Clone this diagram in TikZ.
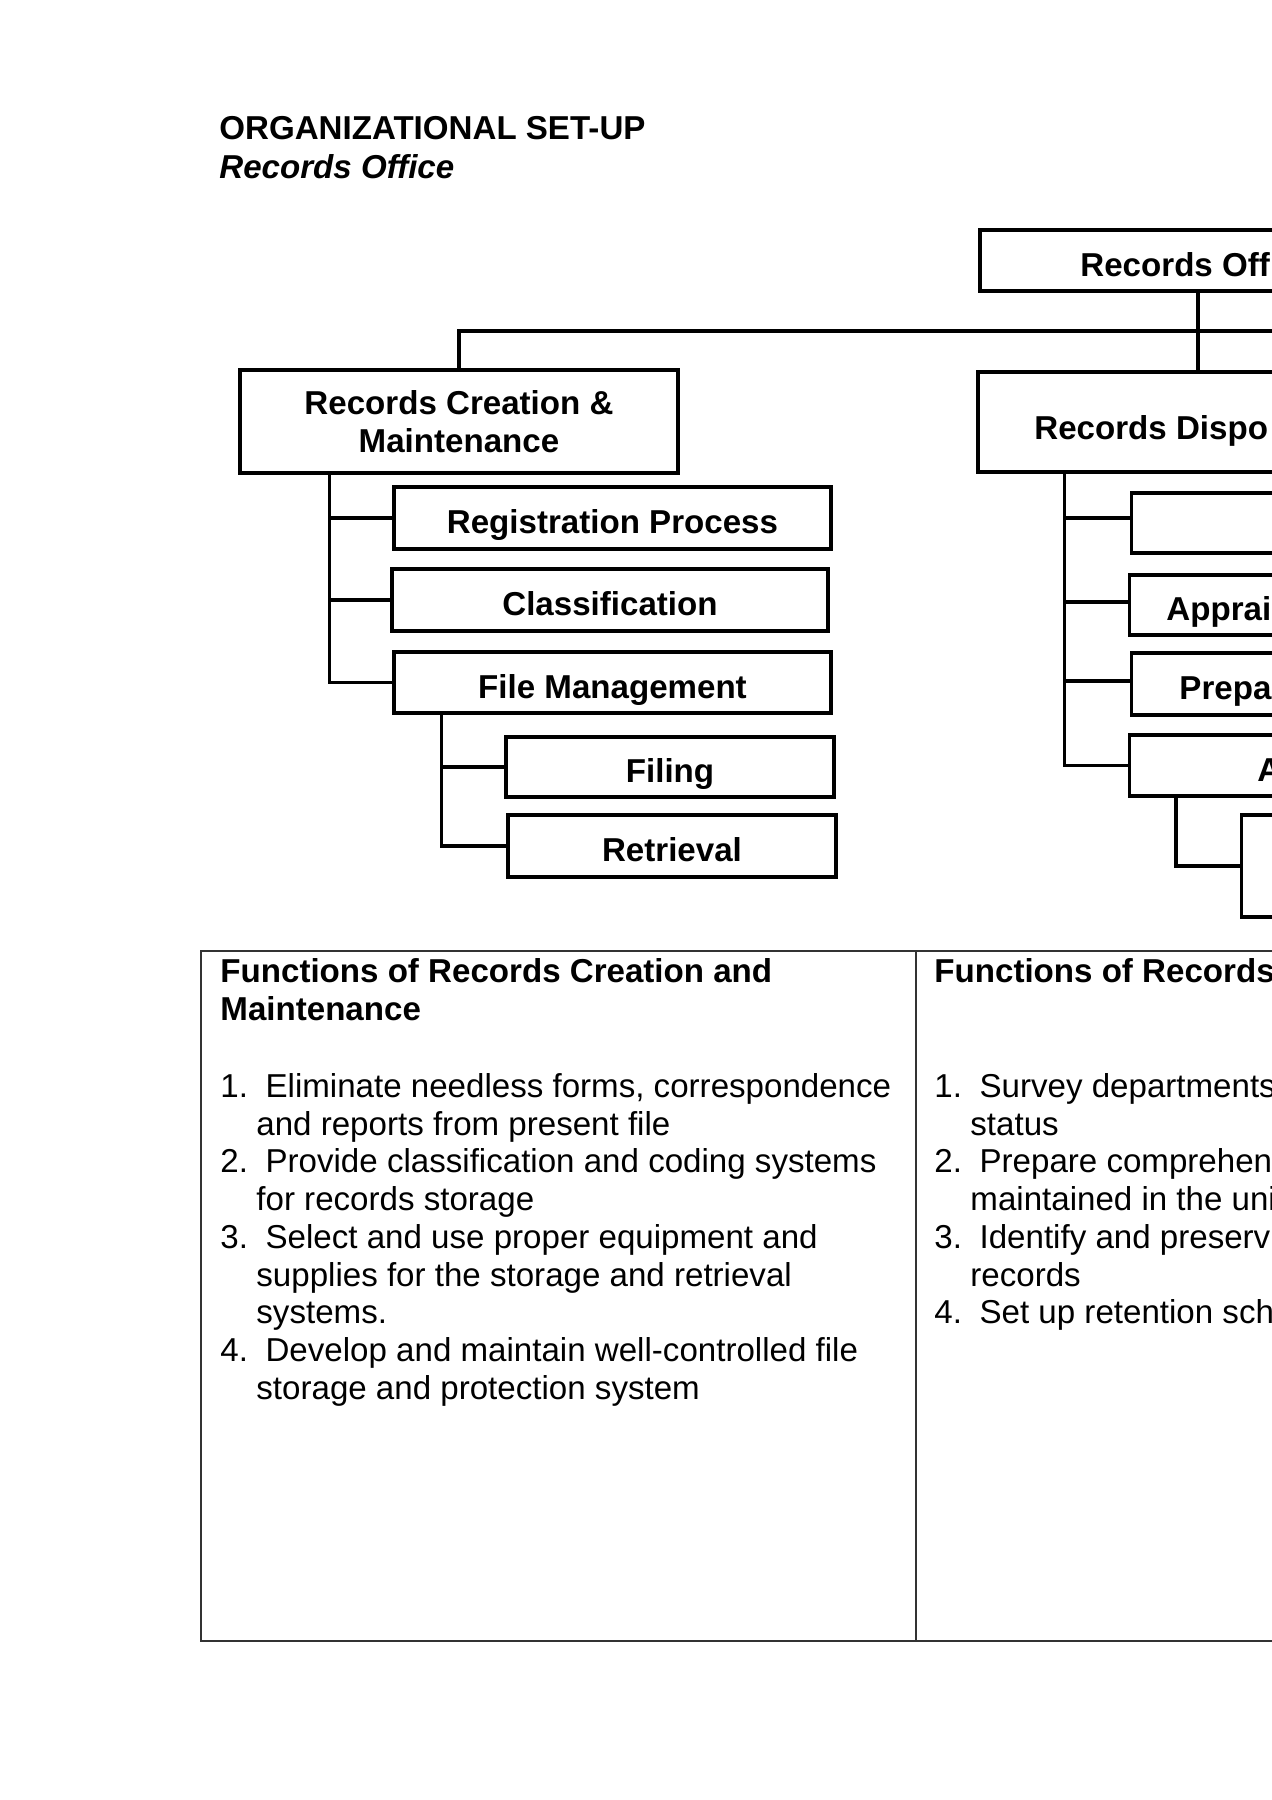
\documentclass[tikz,border=0pt]{standalone}
\usepackage{fontspec}
\setmainfont{Liberation Sans}
\usepackage{tikz}
\usetikzlibrary{positioning}
\newcommand\px{0.46973pt}
\newcommand\bodyfont{\fontsize{15.55pt}{17.7pt}\selectfont}
\newcommand\boxfont{\fontsize{15.55pt}{17.85pt}\selectfont\bfseries}
\newcommand\no[1]{\makebox[16.9pt][l]{#1}\ }
\tikzset{
  orgbox/.style={draw=black,line width=1.6pt,inner sep=0pt,font=\boxfont,minimum width=437*\px,minimum height=62*\px},
  onerow/.style={orgbox,text height=14.6pt,text depth=0pt},
  cutlabel/.style={anchor=west,inner sep=0pt,font=\boxfont,text height=14.6pt,text depth=0pt},
  link/.style={draw=black,line width=1.6pt},
  tbl/.style={draw=black!80,line width=0.6pt},
  txtline/.style={anchor=base west,inner sep=0pt,font=\bodyfont}
}

\begin{document}
\begin{tikzpicture}[x=0.0165094cm,y=-0.0165094cm]
\useasboundingbox (0,0) rectangle (1272,1800);
\clip (0,0) rectangle (1272,1800);
\fill[white] (0,0) rectangle (1272,1800);
%
% heading
\node[anchor=base west,inner sep=0pt,font=\boxfont] (title) at (219,139) {ORGANIZATIONAL SET-UP};
\node[anchor=base west,inner sep=0pt,font=\boxfont\itshape] (subtitle) at (219,178) {Records Office};
%
% top and second level
\node[onerow,minimum width=436*\px,minimum height=61*\px] (off) at (1198,260.5) {};
\node[cutlabel] (off-t) at (1080,260.5) {Records Off};
\node[orgbox,align=center,minimum width=438*\px,minimum height=103*\px] (crm) at (459,421.5) {Records Creation \&\\Maintenance};
\node[onerow,minimum width=440*\px,minimum height=100*\px] (dsp) at (1198,422) {};
\node[cutlabel] (dsp-t) at (1034,424) {Records Dispo};
\coordinate (bar-r) at (1300,331);
%
% path: office to divisions
\draw[link] (off.south) -- (dsp.north);
\draw[link] (crm.north) |- (bar-r);
%
% records creation and maintenance
\node[onerow] (reg) at (612.5,518) {Registration Process};
\node[onerow,minimum width=436*\px] (cls) at (610,600) {Classification};
\node[onerow,minimum height=61*\px] (fmg) at (612.5,682.5) {File Management};
\node[onerow,minimum width=328*\px,minimum height=60*\px] (fil) at (670,767) {Filing};
\node[onerow,minimum width=328*\px] (ret) at (672,846) {Retrieval};
%
% path: 
\draw[link] (crm.south west) ++(91,0) |- (reg.west);
\draw[link] (crm.south west) ++(91,0) |- (cls.west);
\draw[link] (crm.south west) ++(91,0) |- (fmg.west);
\draw[link] (fmg.south west) ++(49,0) |- (fil.west);
\draw[link] (fmg.south west) ++(49,0) |- (ret.west);
%
% records disposition
\node[onerow,minimum height=60*\px] (d1) at (1350,523) {};
\node[onerow,minimum height=60*\px] (d2) at (1348,605) {};
\node[cutlabel] (d2-t) at (1166,605) {Apprai};
\node[onerow] (d3) at (1350,684) {};
\node[cutlabel] (d3-t) at (1179,684) {Prepa};
\node[onerow,minimum height=61*\px] (d4) at (1348,765.5) {};
\node[cutlabel] (d4-t) at (1257,765.5) {A};
\node[onerow,minimum height=102*\px] (d5) at (1460,866) {};
%
% path: 
\draw[link] (dsp.south west) ++(88,0) |- ([yshift=2.3pt]d1.west);
\draw[link] (dsp.south west) ++(88,0) |- ([yshift=1.4pt]d2.west);
\draw[link] (dsp.south west) ++(88,0) |- ([yshift=1.4pt]d3.west);
\draw[link] (dsp.south west) ++(88,0) |- (d4.west);
\draw[link] (d4.south west) ++(48,0) |- (d5.west);
%
% path: functions table
\draw[tbl] (201,951) rectangle (1700,1641);
\draw[tbl] (916,951) -- (916,1641);
%
\foreach \yy/\xx/\txt [count=\i] in {
  982/220/{\textbf{Functions of Records Creation and}},
  1020/220/{\textbf{Maintenance}},
  1097/220/{\no{1.}Eliminate needless forms, correspondence},
  1135/256/{and reports from present file},
  1172/220/{\no{2.}Provide classification and coding systems},
  1210/256/{for records storage},
  1248/220/{\no{3.}Select and use proper equipment and},
  1286/256/{supplies for the storage and retrieval},
  1323/256/{systems.},
  1361/220/{\no{4.}Develop and maintain well-controlled file},
  1399/256/{storage and protection system}}
  \node[txtline] (la\i) at (\xx,\yy) {\txt};
%
\foreach \yy/\xx/\txt [count=\i] in {
  982/934/{\textbf{Functions of Records}},
  1097/934/{\no{1.}Survey departments},
  1135/970/{status},
  1172/934/{\no{2.}Prepare comprehen},
  1210/970/{maintained in the uni},
  1248/934/{\no{3.}Identify and preserv},
  1286/970/{records},
  1323/934/{\no{4.}Set up retention sch}}
  \node[txtline] (lb\i) at (\xx,\yy) {\txt};
\end{tikzpicture}
\end{document}
